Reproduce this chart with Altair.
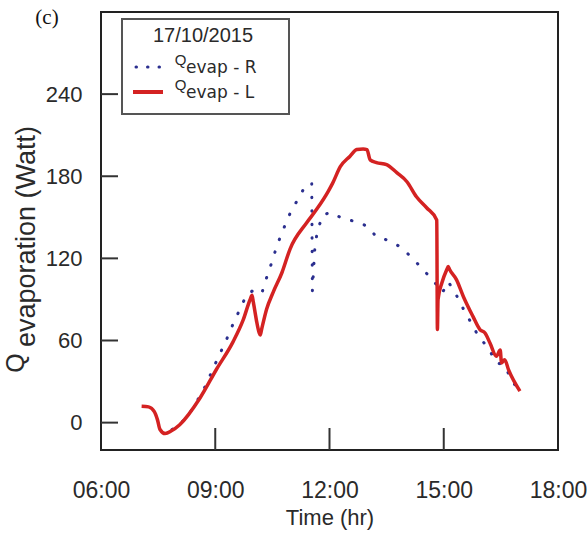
import altair as alt
import pandas as pd

# ---- data ----
R_TIME = ["07:52", "08:04", "08:20", "08:34", "08:46", "08:56", "09:07", "09:18", "09:28",
          "09:39", "09:50", "09:58", "10:13", "10:21", "10:29", "10:37", "10:47", "10:58",
          "11:10", "11:22", "11:32", "11:33", "11:37", "11:41", "11:50", "12:04", "12:22",
          "12:43", "13:01", "13:14", "13:34", "13:53", "14:11", "14:27", "14:43", "14:58",
          "15:07", "15:19", "15:31", "15:43", "15:56", "16:10", "16:22", "16:35", "16:50",
          "17:00"]
R_VAL = [-5, -1.5, 7, 18, 28, 39, 50, 61, 72,
         83, 94, 96, 94, 106, 117, 129, 141, 153,
         163, 173, 175, 96, 128, 140.5, 152, 153.6, 148.5,
         147, 143, 135.6, 133, 128, 120, 112, 104, 95,
         103, 94, 83, 73, 62, 55, 44, 42, 29,
         22]

L_TIME = ["07:04", "07:15", "07:24", "07:29", "07:33", "07:41", "07:51", "08:04", "08:36",
          "09:02", "09:28", "09:44", "09:55", "09:58", "10:00", "10:09", "10:11", "10:13",
          "10:21", "10:31", "10:45", "10:58",
          "11:24", "11:40", "11:58", "12:05", "12:17", "12:32", "12:43", "12:53", "12:59",
          "13:04", "13:14", "13:30", "13:46", "14:02", "14:17", "14:33", "14:49", "14:50",
          "14:51", "14:57", "15:05", "15:07", "15:09", "15:20", "15:31", "15:46", "15:57",
          "16:05", "16:13", "16:23", "16:29", "16:31", "16:36", "16:42", "17:00"]
L_VAL = [12, 11.5, 8, 2, -5, -8, -6, -1.5, 18,
         39, 59, 75, 90, 93, 88, 66, 64, 68,
         83, 95, 109.5, 127,
         146, 156, 169, 175, 187, 194.5, 199.5, 200, 199.5,
         192, 190, 188.5, 182.6, 176, 165, 157, 148, 68,
         90, 102, 112, 114, 112, 104.5, 92, 77.6, 68,
         65.5, 58, 48.5, 53, 43.6, 46, 38.7, 23]

X_LABEL_TICKS = [6, 9, 12, 15, 18]
X_INNER_TICKS = [9, 12, 15]
Y_TICKS = [0, 60, 120, 180, 240]

SERIES = ["R", "L"]
COLORS = {"R": "#2b2f8f", "L": "#d42222"}
LEGEND_TITLE = "17/10/2015"

FONT = "Liberation Sans"
TXT = "#2a2a2a"
W, H = 457, 438


def hours(t):
    h, m = t.split(":")
    return int(h) + int(m) / 60.0


df_r = pd.DataFrame({"t": [hours(t) for t in R_TIME], "q": R_VAL, "i": range(len(R_VAL))})
df_l = pd.DataFrame({"t": [hours(t) for t in L_TIME], "q": L_VAL, "i": range(len(L_VAL))})

x_scale = alt.Scale(domain=[6, 18], nice=False, zero=False)
y_scale = alt.Scale(domain=[-20, 300], nice=False, zero=False)

x_axis = alt.Axis(values=X_LABEL_TICKS,
                  labelExpr="(datum.value < 10 ? '0' : '') + datum.value + ':00'",
                  ticks=False, domain=False, grid=False, labelFlush=False,
                  labelFont=FONT, labelFontSize=23, labelColor=TXT, labelPadding=40,
                  labelBaseline="middle",
                  title="Time (hr)", titleFont=FONT, titleFontSize=22,
                  titleFontWeight="normal", titleColor=TXT, titlePadding=5)
y_axis = alt.Axis(values=Y_TICKS, ticks=False, domain=False, grid=False,
                  labelFont=FONT, labelFontSize=22, labelColor=TXT, labelPadding=19,
                  title=None)

X = alt.X("t:Q", scale=x_scale, axis=x_axis)
Y = alt.Y("q:Q", scale=y_scale, axis=y_axis)

line_r = alt.Chart(df_r).mark_line(
    color=COLORS["R"], strokeWidth=3, strokeDash=[0.5, 13], strokeCap="round"
).encode(x=X, y=Y, order="i:Q")

line_l = alt.Chart(df_l).mark_line(
    color=COLORS["L"], strokeWidth=3.5, strokeJoin="round", interpolate="monotone"
).encode(x=X, y=Y, order="i:Q")

xticks = alt.Chart(pd.DataFrame({"t": X_INNER_TICKS})).mark_rule(
    color="#333333", strokeWidth=2
).encode(x=X, y=alt.value(H), y2=alt.value(H - 22))

yticks = alt.Chart(pd.DataFrame({"q": Y_TICKS})).mark_rule(
    color="#333333", strokeWidth=2
).encode(y=Y, x=alt.value(0), x2=alt.value(17))

one = pd.DataFrame({"a": [0]})

leg_box = alt.Chart(one).mark_rect(fill="white", stroke="#555555", strokeWidth=2).encode(
    x=alt.value(21), x2=alt.value(188), y=alt.value(7), y2=alt.value(102))
leg_title = alt.Chart(one).mark_text(text=LEGEND_TITLE, font=FONT, fontSize=20, color=TXT,
                                     align="center", baseline="middle").encode(
    x=alt.value(102), y=alt.value(24))

leg_layers = []
for k, name in enumerate(SERIES):
    yrow = 55 + 25 * k
    if name == "R":
        sym = alt.Chart(one).mark_rule(color=COLORS[name], strokeWidth=3, strokeDash=[0.5, 11],
                                       strokeCap="round").encode(
            x=alt.value(35), x2=alt.value(62), y=alt.value(yrow))
    else:
        sym = alt.Chart(one).mark_rule(color=COLORS[name], strokeWidth=4).encode(
            x=alt.value(32), x2=alt.value(62), y=alt.value(yrow))
    q = alt.Chart(one).mark_text(text="Q", font=FONT, fontSize=15, color=TXT,
                                 align="center", baseline="middle").encode(
        x=alt.value(79.5), y=alt.value(yrow - 7))
    lab = alt.Chart(one).mark_text(text="evap - " + name, font="DejaVu Sans", fontSize=17,
                                   color=TXT, align="left", baseline="middle").encode(
        x=alt.value(85), y=alt.value(yrow + 1))
    leg_layers += [sym, q, lab]

ytitle_q = alt.Chart(one).mark_text(text="Q", font=FONT, fontSize=25, color=TXT, angle=270,
                                    align="center", baseline="middle").encode(
    x=alt.value(-85), y=alt.value(351))
ytitle_rest = alt.Chart(one).mark_text(text="evaporation (Watt)", font=FONT, fontSize=27,
                                       color=TXT, angle=270, align="left",
                                       baseline="middle").encode(
    x=alt.value(-74), y=alt.value(335))
panel = alt.Chart(one).mark_text(text="(c)", font="Liberation Serif", fontSize=21,
                                 color="#111111", align="center", baseline="middle").encode(
    x=alt.value(-54), y=alt.value(6))

chart = alt.layer(
    line_r, line_l, xticks, yticks, leg_box, leg_title, *leg_layers,
    ytitle_q, ytitle_rest, panel
).properties(
    width=W, height=H,
    autosize=alt.AutoSizeParams(type="none"),
    padding={"left": 101, "top": 12, "right": 29, "bottom": 91},
    background="white",
).configure_view(stroke="#222222", strokeWidth=2)

chart.save("out.html", embed_options={"renderer": "svg", "actions": False})
